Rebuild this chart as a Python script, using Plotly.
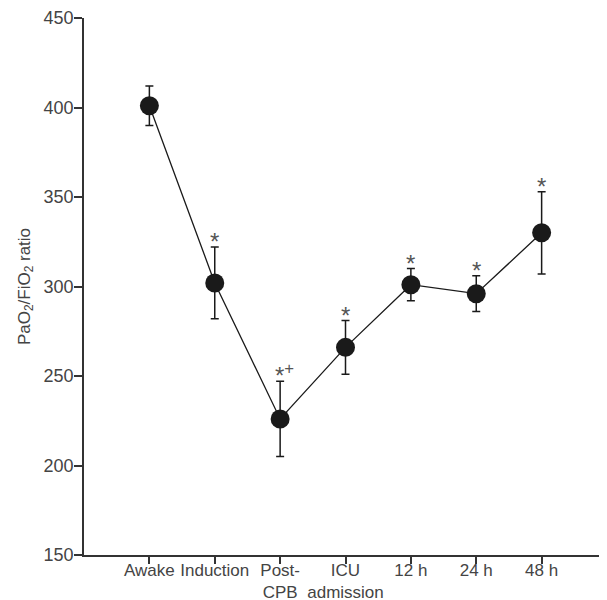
import plotly.graph_objects as go

categories = ["Awake", "Induction", "Post-<br>CPB", "ICU<br>admission", "12 h", "24 h", "48 h"]
means = [401, 302, 226, 266, 301, 296, 330]
err_plus = [11, 20, 21, 15, 9, 10, 23]
err_minus = [11, 20, 21, 15, 9, 10, 23]
marks = ["", "*", "*<sup>+</sup>", "*", "*", "*", "*"]
y_ticks = [150, 200, 250, 300, 350, 400, 450]

xpos = list(range(len(categories)))
FAM = "Liberation Sans, Arial, sans-serif"

fig = go.Figure()
fig.add_trace(go.Scatter(
    x=xpos, y=means,
    mode="lines+markers",
    line=dict(color="#1a1a1a", width=1.3),
    marker=dict(color="#1a1a1a", size=19),
    error_y=dict(type="data", array=err_plus, arrayminus=err_minus,
                 color="#1a1a1a", thickness=1.5, width=4),
    showlegend=False,
))

for x, m, e, t in zip(xpos, means, err_plus, marks):
    if t:
        fig.add_annotation(x=x, y=m + e, text=t, showarrow=False,
                           yanchor="bottom", yshift=-10, xshift=(4 if "+" in t else 0),
                           font=dict(size=24, color="#555555", family=FAM))

fig.update_layout(
    width=599, height=600,
    margin=dict(l=76, r=0, t=10, b=53),
    plot_bgcolor="white", paper_bgcolor="white",
    font=dict(family=FAM, size=18, color="#444444"),
    xaxis=dict(
        range=[-1, 7], tickmode="array", tickvals=xpos, ticktext=categories,
        tickangle=0, ticklabelstandoff=-8,
        showgrid=False, zeroline=False, showline=True, linecolor="#333333", linewidth=1.5,
        ticks="outside", ticklen=7, tickwidth=1.5, tickcolor="#333333",
        automargin=False, tickfont=dict(size=17, family=FAM, color="#444444"),
    ),
    yaxis=dict(
        range=[150, 450], tickmode="array", tickvals=y_ticks,
        ticklabelstandoff=-3,
        showgrid=False, zeroline=False, showline=True, linecolor="#333333", linewidth=1.5,
        ticks="outside", ticklen=8, tickwidth=1.5, tickcolor="#333333",
        automargin=False, tickfont=dict(size=18, family=FAM, color="#444444"),
        title=dict(text="PaO<sub>2</sub>/FiO<sub>2</sub> ratio", standoff=9,
                   font=dict(size=17, color="#444444", family=FAM)),
    ),
)

fig.write_html("out.html")
